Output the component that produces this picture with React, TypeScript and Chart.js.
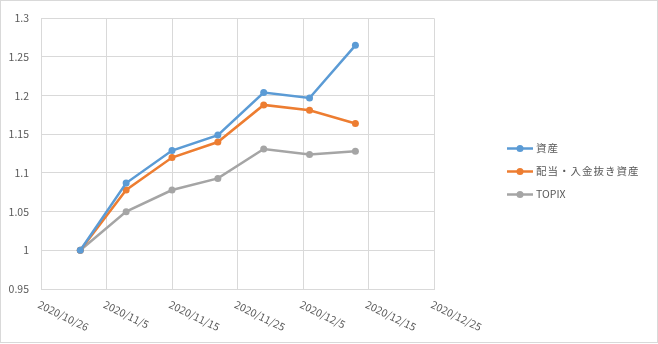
import React, { useEffect, useRef } from "react";
import { Chart, registerables } from "chart.js";

Chart.register(...registerables);

// ---- data ----
const dates = ["2020/11/1", "2020/11/8", "2020/11/15", "2020/11/22", "2020/11/29", "2020/12/6", "2020/12/13"];
const assets = [1, 1.087, 1.129, 1.149, 1.204, 1.197, 1.265];
const exDividendAssets = [1, 1.078, 1.12, 1.14, 1.188, 1.181, 1.164];
const topix = [1, 1.05, 1.078, 1.093, 1.131, 1.124, 1.128];
const seriesNames = ["資産", "配当・入金抜き資産", "TOPIX"];
const xTickLabels = ["2020/10/26", "2020/11/5", "2020/11/15", "2020/11/25", "2020/12/5", "2020/12/15", "2020/12/25"];
const yMin = 0.95;
const yMax = 1.3;
const yStep = 0.05;

// ---- styles ----
const COLORS = ["#5B9BD5", "#ED7D31", "#A5A5A5"];
const TEXT = "#595959";
const GRID = "#D9D9D9";
const FONT_FAMILY = "'Noto Sans CJK JP', 'Noto Sans', sans-serif";
const FONT_SIZE = 10.5;
const LABEL_ANGLE = (26 * Math.PI) / 180;

const toDay = (s: string) => {
  const [y, m, d] = s.split("/").map(Number);
  const [by, bm, bd] = xTickLabels[0].split("/").map(Number);
  return (Date.UTC(y, m - 1, d) - Date.UTC(by, bm - 1, bd)) / 86400000;
};
const labelForDay = (v: number) => xTickLabels.find((l) => toDay(l) === v) ?? "";

const decorPlugin = {
  id: "decor",
  beforeDraw(chart: any) {
    const ctx = chart.ctx;
    ctx.save();
    ctx.fillStyle = "#ffffff";
    ctx.fillRect(0, 0, chart.width, chart.height);
    ctx.strokeStyle = GRID;
    ctx.lineWidth = 1;
    ctx.strokeRect(0.5, 0.5, chart.width - 1, chart.height - 2);
    ctx.restore();
  },
  afterDraw(chart: any) {
    const ctx = chart.ctx;
    const xs = chart.scales.x;
    const area = chart.chartArea;
    ctx.save();
    ctx.font = `${FONT_SIZE}px ${FONT_FAMILY}`;
    ctx.fillStyle = TEXT;
    ctx.textAlign = "left";
    ctx.textBaseline = "top";
    xs.ticks.forEach((t: any) => {
      const px = xs.getPixelForValue(t.value);
      ctx.save();
      ctx.translate(px, area.bottom + 10);
      ctx.rotate(LABEL_ANGLE);
      ctx.fillText(labelForDay(t.value), 0, 0);
      ctx.restore();
    });
    // legend
    const n = chart.data.datasets.length;
    const dy = 22.7;
    const y0 = chart.height / 2 - ((n - 1) * dy) / 2;
    const lx = area.right + 73;
    chart.data.datasets.forEach((ds: any, i: number) => {
      const y = Math.round(y0 + i * dy) - 0.5;
      ctx.strokeStyle = ds.borderColor;
      ctx.lineWidth = 2.5;
      ctx.beginPath();
      ctx.moveTo(lx, y);
      ctx.lineTo(lx + 26, y);
      ctx.stroke();
      ctx.fillStyle = ds.borderColor;
      ctx.beginPath();
      ctx.arc(lx + 13, y, 3.5, 0, Math.PI * 2);
      ctx.fill();
      ctx.fillStyle = TEXT;
      ctx.textBaseline = "middle";
      (ctx as any).letterSpacing = /[^\x00-\x7F]/.test(ds.label) ? "1px" : "0px";
      ctx.fillText(ds.label, lx + 29, y);
    });
    ctx.restore();
  },
};

export default function App() {
  const ref = useRef<HTMLCanvasElement | null>(null);
  useEffect(() => {
    if (!ref.current) return;
    const series = [assets, exDividendAssets, topix];
    const chart = new Chart(ref.current, {
      type: "line",
      data: {
        datasets: series.map((vals, i) => ({
          label: seriesNames[i],
          data: vals.map((v, j) => ({ x: toDay(dates[j]), y: v })),
          borderColor: COLORS[i],
          backgroundColor: COLORS[i],
          pointBackgroundColor: COLORS[i],
          pointBorderColor: COLORS[i],
          pointBorderWidth: 0,
          pointRadius: 3.5,
          borderWidth: 2.5,
          tension: 0,
          fill: false,
        })),
      },
      options: {
        animation: false,
        responsive: false,
        devicePixelRatio: 1,
        layout: { padding: { top: 15, right: 224, bottom: 0, left: 0 } },
        plugins: { legend: { display: false }, tooltip: { enabled: false } },
        scales: {
          x: {
            type: "linear",
            min: toDay(xTickLabels[0]),
            max: toDay(xTickLabels[xTickLabels.length - 1]),
            afterBuildTicks: (scale: any) => {
              scale.ticks = xTickLabels.map((l) => ({ value: toDay(l) }));
            },
            afterFit: (scale: any) => {
              scale.height = 55;
            },
            ticks: { display: false, callback: (v: any) => labelForDay(Number(v)) },
            grid: { color: GRID, drawTicks: false, lineWidth: 1 },
            border: { color: GRID, width: 1 },
          },
          y: {
            min: yMin,
            max: yMax,
            afterFit: (scale: any) => {
              scale.width = 41;
            },
            ticks: {
              stepSize: yStep,
              padding: 12,
              color: TEXT,
              font: { family: FONT_FAMILY, size: FONT_SIZE },
              callback: (v: any) => String(Number(Number(v).toFixed(2))),
            },
            grid: { color: GRID, drawTicks: false, lineWidth: 1 },
            border: { color: GRID, width: 1 },
          },
        },
      },
      plugins: [decorPlugin],
    } as any);
    return () => chart.destroy();
  }, []);
  return (
    <div style={{ position: "fixed", left: 0, top: 0, width: 658, height: 344 }}>
      <canvas ref={ref} width={658} height={344} style={{ display: "block", width: 658, height: 344 }} />
    </div>
  );
}
